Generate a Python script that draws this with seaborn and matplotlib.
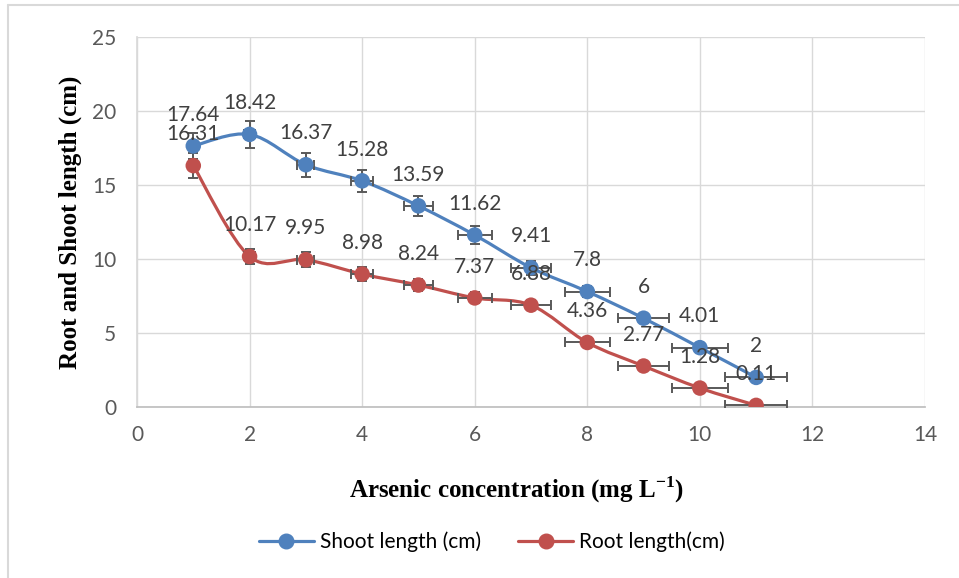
import matplotlib
matplotlib.use("Agg")
import matplotlib.pyplot as plt
import seaborn as sns
import numpy as np
import pandas as pd
from matplotlib.path import Path
from matplotlib.patches import PathPatch
from matplotlib.lines import Line2D

# ---- data ----
conc = [1, 2, 3, 4, 5, 6, 7, 8, 9, 10, 11]
shoot = [17.64, 18.42, 16.37, 15.28, 13.59, 11.62, 9.41, 7.8, 6, 4.01, 2]
root = [16.31, 10.17, 9.95, 8.98, 8.24, 7.37, 6.88, 4.36, 2.77, 1.28, 0.11]
shoot_yerr = [0.88, 0.92, 0.82, 0.76, 0.68, 0.58, 0.47, 0.39, 0.30, 0.20, 0.10]
root_yerr = [0.82, 0.51, 0.50, 0.45, 0.41, 0.37, 0.34, 0.22, 0.14, 0.06, 0.01]
xerr = [0.05, 0.10, 0.15, 0.20, 0.25, 0.30, 0.35, 0.40, 0.45, 0.50, 0.55]
series_names = ["Shoot length (cm)", "Root length(cm)"]
xticks = [0, 2, 4, 6, 8, 10, 12, 14]
yticks = [0, 5, 10, 15, 20, 25]

df = pd.DataFrame({
    "conc": conc * 2,
    "value": shoot + root,
    "series": [series_names[0]] * len(conc) + [series_names[1]] * len(conc),
})

BLUE = "#4F81BD"
RED = "#C0504D"
GRID = "#d9d9d9"
TICK = "#595959"
LABEL = "#404040"
FS = 15

sns.set_theme(style="white")
plt.rcParams["font.family"] = ["Lato", "DejaVu Sans"]
plt.rcParams["mathtext.fontset"] = "custom"
plt.rcParams["mathtext.rm"] = "Liberation Serif"
plt.rcParams["mathtext.bf"] = "Liberation Serif:bold"

fig = plt.figure(figsize=(9.59, 5.78), dpi=100)
ax = fig.add_axes([137 / 959, 1 - 407 / 578, (925 - 137) / 959, (407 - 37) / 578])

# outer chart border (left and top edges visible)
fig.add_artist(Line2D([7.5 / 959, 7.5 / 959], [0, 1 - 5 / 578], transform=fig.transFigure,
                      color="#d9d9d9", lw=1.5))
fig.add_artist(Line2D([7.5 / 959, 1], [1 - 5 / 578, 1 - 5 / 578], transform=fig.transFigure,
                      color="#d9d9d9", lw=1.5))

ax.set_xlim(0, 14)
ax.set_ylim(0, 25)
ax.set_xticks(xticks)
ax.set_yticks(yticks)
ax.grid(True, color=GRID, lw=1)
ax.set_axisbelow(True)
for s in ["top", "right"]:
    ax.spines[s].set_visible(False)
ax.spines["left"].set_color(GRID)
ax.spines["bottom"].set_color("#bfbfbf")
ax.tick_params(axis="both", length=0, labelsize=FS, labelcolor=TICK)
ax.tick_params(axis="y", pad=15)
ax.tick_params(axis="x", pad=13)


def smooth_path(xs, ys):
    pts = np.column_stack([xs, ys]).astype(float)
    n = len(pts)
    verts = [pts[0]]
    codes = [Path.MOVETO]
    for i in range(n - 1):
        p0 = pts[i - 1] if i > 0 else pts[i]
        p1 = pts[i]
        p2 = pts[i + 1]
        p3 = pts[i + 2] if i + 2 < n else pts[i + 1]
        c1 = p1 + (p2 - p0) / 6.0
        c2 = p2 - (p3 - p1) / 6.0
        verts += [c1, c2, p2]
        codes += [Path.CURVE4] * 3
    return Path(verts, codes)


for name, ys, yerr, col in [(series_names[0], shoot, shoot_yerr, BLUE),
                            (series_names[1], root, root_yerr, RED)]:
    ax.add_patch(PathPatch(smooth_path(conc, ys), fill=False, edgecolor=col,
                           lw=2.3, zorder=3, capstyle="round"))
    ax.errorbar(conc, ys, xerr=xerr, yerr=yerr, fmt="none", ecolor="#595959",
                elinewidth=1.4, capsize=3.5, capthick=1.4, zorder=4)

sns.scatterplot(data=df, x="conc", y="value", hue="series",
                palette=[BLUE, RED], s=125, edgecolor="none", zorder=5,
                legend=False, ax=ax)

for ys in [shoot, root]:
    for x, y in zip(conc, ys):
        ax.annotate(f"{y:g}", (x, y), xytext=(0, 22.5), textcoords="offset points",
                    ha="center", va="center", fontsize=FS, color=LABEL,
                    zorder=6)

ax.set_xlabel("")
ax.set_ylabel("")

fig.text(517 / 959, 1 - 490 / 578, "Arsenic concentration (mg L$^{\\mathbf{-1}}$)",
         ha="center", va="center", fontsize=18, fontweight="bold",
         family="Liberation Serif", color="black")
fig.text(70 / 959, 1 - 222 / 578, "Root and Shoot length (cm)",
         ha="center", va="center", rotation=90, fontsize=18, fontweight="bold",
         family="Liberation Serif", color="black")

handles = [Line2D([0], [0], color=BLUE, lw=2.3, marker="o", markersize=10.5),
           Line2D([0], [0], color=RED, lw=2.3, marker="o", markersize=10.5)]
fig.legend(handles, series_names, loc="center", bbox_to_anchor=(492 / 959, 1 - 542 / 578),
           ncol=2, frameon=False, fontsize=FS, handlelength=2.6,
           handletextpad=0.3, columnspacing=1.8, labelcolor="black")

fig.savefig("out.png", dpi=100)
